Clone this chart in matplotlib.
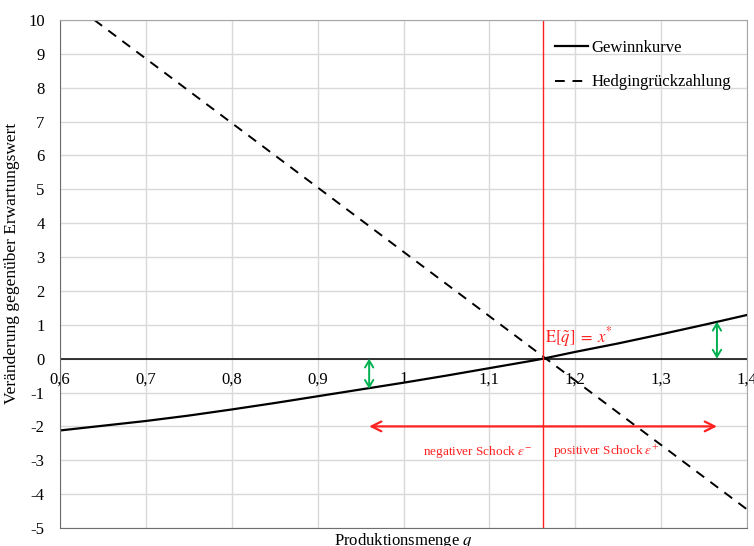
import numpy as np
import matplotlib.pyplot as plt

plt.rcParams['font.family'] = ['Liberation Serif', 'DejaVu Serif']
plt.rcParams['mathtext.fontset'] = 'stix'
plt.rcParams['axes.unicode_minus'] = False

# Gewinnkurve (Veränderung gegenüber Erwartungswert)
q_gewinn = [0.60, 0.65, 0.70, 0.75, 0.80, 0.85, 0.90, 0.95, 1.00, 1.05, 1.10,
            1.15, 1.1625, 1.20, 1.25, 1.30, 1.35, 1.40]
gewinn = [-2.12, -1.98, -1.84, -1.68, -1.50, -1.31, -1.11, -0.91, -0.71, -0.50,
          -0.28, -0.06, 0.0, 0.20, 0.45, 0.72, 1.00, 1.29]

# Hedgingrückzahlung (linear)
q_hedge = [0.60, 1.40]
hedge = [10.76, -4.45]

q_erwartung = 1.1625
schock_links, schock_rechts = 0.96, 1.365
abstand_links = -0.89
abstand_rechts = 1.09
schock_y = -2.0

xticks = [0.6, 0.7, 0.8, 0.9, 1.0, 1.1, 1.2, 1.3, 1.4]
xticklabels = ['0,6', '0,7', '0,8', '0,9', '1', '1,1', '1,2', '1,3', '1,4']
yticks = list(range(-5, 11))

fig = plt.figure(figsize=(7.54, 5.46), dpi=100)
ax = fig.add_axes([60/754, 1 - 528/546, 687/754, 508/546])

ax.set_xlim(0.6, 1.4)
ax.set_ylim(-5, 10)
ax.set_xticks(xticks)
ax.set_yticks(yticks)
ax.set_xticklabels([])
ax.set_yticklabels([str(v) for v in yticks], fontsize=12)
ax.tick_params(length=0, pad=11)
ax.grid(True, color='#d9d9d9', lw=1)
ax.set_axisbelow(True)
for side in ['top', 'right']:
    ax.spines[side].set_color('#a6a6a6')
for side in ['left', 'bottom']:
    ax.spines[side].set_color('#6e6e6e')

ax.axhline(0, color='black', lw=1.1)
for x, lab in zip(xticks, xticklabels):
    ax.annotate(lab, (x, 0), xytext=(0, -9), textcoords='offset points',
                ha='center', va='top', fontsize=12, annotation_clip=False)

ax.plot(q_gewinn, gewinn, color='black', lw=1.6, label='Gewinnkurve')
ax.plot(q_hedge, hedge, color='black', lw=1.4, ls=(0, (5, 4)),
        label='Hedgingrückzahlung')

ax.axvline(q_erwartung, color='#ff2020', lw=1)
ax.text(q_erwartung + 0.002, 0.3, r'$\mathrm{E}[\tilde{q}]\;=\;x^{*}$',
        color='#ff2020', fontsize=12, ha='left', va='bottom')

# Schockbereich
ax.annotate('', xy=(schock_links, schock_y), xytext=(q_erwartung, schock_y),
            arrowprops=dict(arrowstyle='->,head_length=0.7,head_width=0.35',
                            color='#ff2020', lw=1.6, shrinkA=0, shrinkB=0))
ax.annotate('', xy=(schock_rechts, schock_y), xytext=(q_erwartung, schock_y),
            arrowprops=dict(arrowstyle='->,head_length=0.7,head_width=0.35',
                            color='#ff2020', lw=1.6, shrinkA=0, shrinkB=0))
ax.text(q_erwartung - 0.012, -2.75, r'negativer Schock $\varepsilon^{-}$',
        color='#ff2020', fontsize=9.5, ha='right', va='center')
ax.text(q_erwartung + 0.012, -2.75, r'positiver Schock $\varepsilon^{+}$',
        color='#ff2020', fontsize=9.5, ha='left', va='center')

for x, y in [(schock_links, abstand_links), (schock_rechts, abstand_rechts)]:
    ax.annotate('', xy=(x, y), xytext=(x, 0),
                arrowprops=dict(arrowstyle='<->,head_length=0.5,head_width=0.3',
                                color='#00b050', lw=1.4, shrinkA=0, shrinkB=0))

ax.legend(loc='upper left', bbox_to_anchor=(0.698, 0.99), frameon=False,
          fontsize=12, handlelength=2.0, handletextpad=0.2, labelspacing=1.1)

ax.set_xlabel('Produktionsmenge $q$', fontsize=12)
ax.xaxis.set_label_coords(0.5, -0.006)
ax.set_ylabel('Veränderung gegenüber Erwartungswert', fontsize=12.5)
ax.yaxis.set_label_coords(-0.058, 0.52)

fig.savefig('out.png', dpi=100)
